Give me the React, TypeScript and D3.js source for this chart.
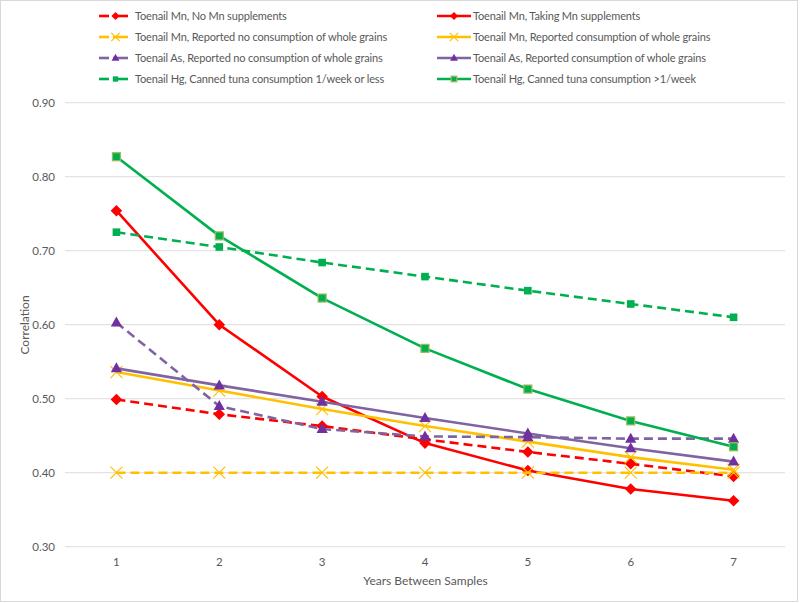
import React from "react";
import * as d3 from "d3";

const years = [1, 2, 3, 4, 5, 6, 7];
const yTicks = [0.3, 0.4, 0.5, 0.6, 0.7, 0.8, 0.9];

const mnNoSupp = [0.499, 0.479, 0.463, 0.445, 0.428, 0.412, 0.395];
const mnSupp = [0.754, 0.6, 0.503, 0.44, 0.403, 0.378, 0.362];
const mnNoGrain = [0.4, 0.4, 0.4, 0.4, 0.4, 0.4, 0.4];
const mnGrain = [0.536, 0.511, 0.486, 0.463, 0.442, 0.421, 0.404];
const asNoGrain = [0.603, 0.49, 0.459, 0.449, 0.448, 0.446, 0.446];
const asGrain = [0.541, 0.518, 0.496, 0.474, 0.453, 0.433, 0.415];
const hgLow = [0.725, 0.705, 0.684, 0.665, 0.646, 0.628, 0.61];
const hgHigh = [0.827, 0.72, 0.636, 0.568, 0.513, 0.47, 0.435];

type Marker = "diamond" | "x" | "triangle" | "square" | "squareB";
interface Series {
  name: string;
  values: number[];
  color: string;
  markerColor: string;
  dashed: boolean;
  marker: Marker;
}

const series: Series[] = [
  { name: "Toenail Mn, No Mn supplements", values: mnNoSupp, color: "#FF0000", markerColor: "#FF0000", dashed: true, marker: "diamond" },
  { name: "Toenail Mn, Taking Mn supplements", values: mnSupp, color: "#FF0000", markerColor: "#FF0000", dashed: false, marker: "diamond" },
  { name: "Toenail Mn, Reported no consumption of whole grains", values: mnNoGrain, color: "#FFC000", markerColor: "#FFC000", dashed: true, marker: "x" },
  { name: "Toenail Mn, Reported consumption of whole grains", values: mnGrain, color: "#FFC000", markerColor: "#FFC000", dashed: false, marker: "x" },
  { name: "Toenail As, Reported no consumption of whole grains", values: asNoGrain, color: "#8064A2", markerColor: "#7030A0", dashed: true, marker: "triangle" },
  { name: "Toenail As, Reported consumption of whole grains", values: asGrain, color: "#8064A2", markerColor: "#7030A0", dashed: false, marker: "triangle" },
  { name: "Toenail Hg, Canned tuna consumption 1/week or less", values: hgLow, color: "#00B050", markerColor: "#00B050", dashed: true, marker: "square" },
  { name: "Toenail Hg, Canned tuna consumption >1/week", values: hgHigh, color: "#00B050", markerColor: "#00B050", dashed: false, marker: "squareB" },
];

const W = 800;
const H = 603;
const FONT = "Lato, 'Liberation Sans', sans-serif";
const TXT = "#595959";

function MarkerShape({ type, x, y, color, s = 1 }: { type: Marker; x: number; y: number; color: string; s?: number }) {
  if (type === "diamond") {
    const r = 5.8 * s;
    return <path d={`M${x},${y - r}L${x + r},${y}L${x},${y + r}L${x - r},${y}Z`} fill={color} />;
  }
  if (type === "triangle") {
    const w = 5.6 * s;
    const h = 10 * s;
    return <path d={`M${x},${y - h * 0.6}L${x + w},${y + h * 0.4}L${x - w},${y + h * 0.4}Z`} fill={color} />;
  }
  if (type === "x") {
    const r = 6 * s;
    return (
      <path d={`M${x - r},${y - r}L${x + r},${y + r}M${x - r},${y + r}L${x + r},${y - r}`} stroke={color} strokeWidth={1.2} fill="none" />
    );
  }
  if (type === "square") {
    const r = 3.8 * s;
    return <rect x={x - r} y={y - r} width={2 * r} height={2 * r} fill={color} />;
  }
  const r = 4 * s;
  return <rect x={x - r} y={y - r} width={2 * r} height={2 * r} fill={color} stroke="#9BBB59" strokeWidth={1.2} />;
}

export default function App() {
  const left = 65;
  const right = 785;
  const x = d3.scaleBand<number>().domain(years).range([left, right]);
  const y = d3.scaleLinear().domain([0.3, 0.9]).range([546.7, 102.7]);
  const cx = (d: number) => (x(d) as number) + x.bandwidth() / 2;
  const line = d3
    .line<number>()
    .x((_, i) => cx(years[i]))
    .y((v) => y(v));

  const legendRows = [16, 37, 58, 79];

  return (
    <svg width={W} height={H} style={{ position: "absolute", left: 0, top: 0, background: "#fff" }} fontFamily={FONT}>
      <rect x={0.5} y={0.5} width={797} height={601} fill="#fff" stroke="#D9D9D9" strokeWidth={1} />
      {yTicks.map((t) => (
        <g key={t}>
          <line x1={left} x2={right} y1={y(t)} y2={y(t)} stroke="#E3E3E3" strokeWidth={1.2} />
          <text x={55} y={y(t) + 4.5} textAnchor="end" fontSize={11.5} fill={TXT}>
            {d3.format(".2f")(t)}
          </text>
        </g>
      ))}
      {years.map((yr) => (
        <text key={yr} x={cx(yr)} y={566} textAnchor="middle" fontSize={11.5} fill={TXT}>
          {yr}
        </text>
      ))}
      <text x={425.5} y={584.5} textAnchor="middle" fontSize={12} fill={TXT}>
        Years Between Samples
      </text>
      <text transform="translate(28.5,325) rotate(-90)" textAnchor="middle" fontSize={12} fill={TXT}>
        Correlation
      </text>

      {series.map((s, i) => (
        <g key={i}>
          <path
            d={line(s.values) || ""}
            fill="none"
            stroke={s.color}
            strokeWidth={2.6}
            strokeDasharray={s.dashed ? "9,5" : undefined}
            strokeLinejoin="round"
          />
          {s.values.map((v, j) => (
            <MarkerShape key={j} type={s.marker} x={cx(years[j])} y={y(v)} color={s.markerColor} />
          ))}
        </g>
      ))}

      {series.map((s, i) => {
        const col = i % 2;
        const row = Math.floor(i / 2);
        const ly = legendRows[row];
        const x0 = col === 0 ? 99 : 437;
        const x1 = col === 0 ? 128 : 471;
        const tx = col === 0 ? 135 : 473;
        const mx = (x0 + x1) / 2 + (col === 0 ? 2 : 0);
        return (
          <g key={"l" + i}>
            {s.dashed ? (
              <>
                <line x1={x0} x2={x0 + 10} y1={ly} y2={ly} stroke={s.color} strokeWidth={2.6} />
                <line x1={x0 + 14} x2={x1} y1={ly} y2={ly} stroke={s.color} strokeWidth={2.6} />
              </>
            ) : (
              <line x1={x0} x2={x1} y1={ly} y2={ly} stroke={s.color} strokeWidth={2.6} />
            )}
            <MarkerShape type={s.marker} x={mx} y={ly} color={s.markerColor} s={0.7} />
            <text x={tx} y={ly + 4} fontSize={11} letterSpacing={-0.15} fill={TXT}>
              {s.name}
            </text>
          </g>
        );
      })}
    </svg>
  );
}
